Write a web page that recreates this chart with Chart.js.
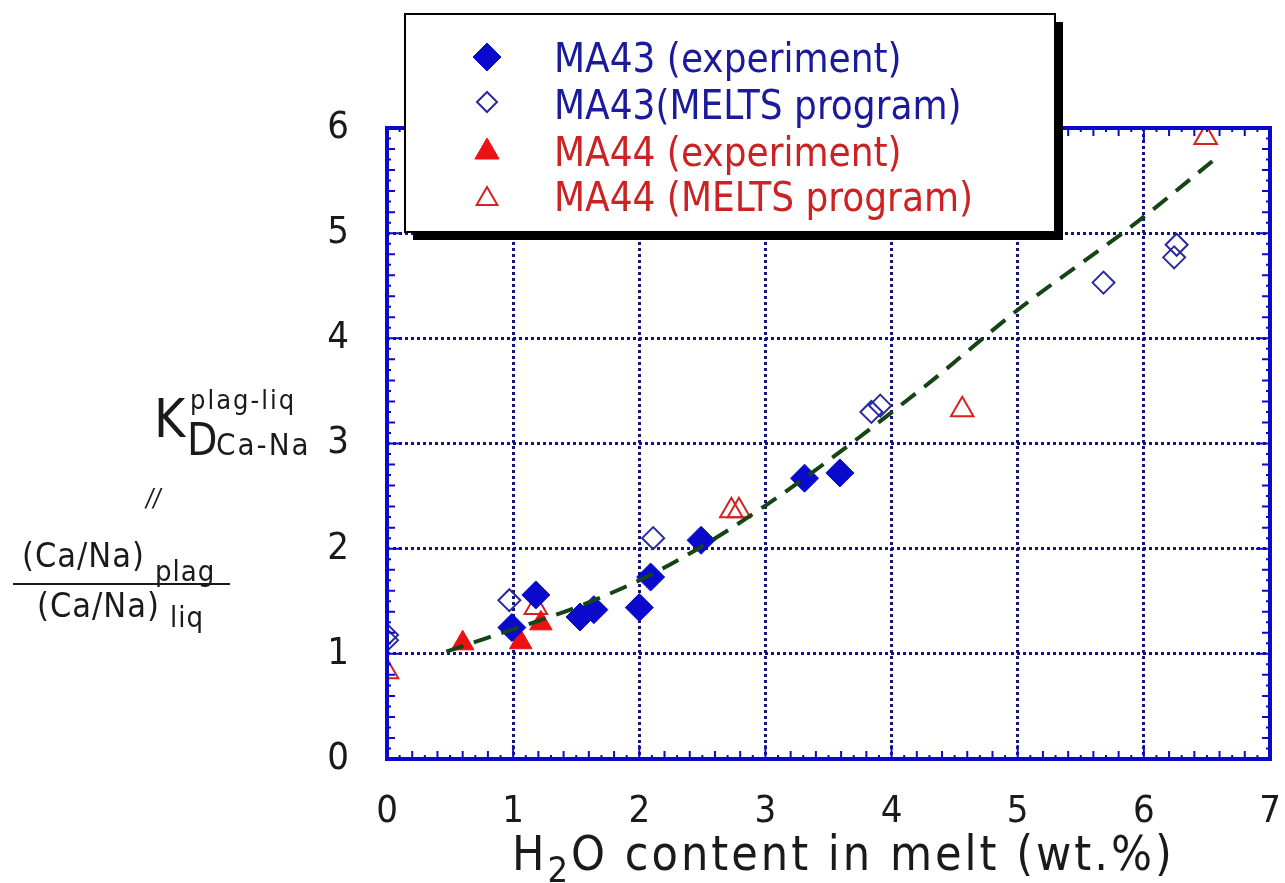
<!DOCTYPE html>
<html>
<head>
<meta charset="utf-8">
<script src="https://cdn.jsdelivr.net/npm/chart.js@4.4.0/dist/chart.umd.min.js"></script>
<style>
  html, body { margin: 0; padding: 0; background: #fff; }
  #wrap { width: 1285px; height: 883px; }
</style>
</head>
<body>
<div id="wrap"><canvas id="kdChart" width="1285" height="883"></canvas></div>
<script>
// valores (H2O wt.% , Kd)
const ma43ExpX = [0.99, 1.18, 1.53, 1.64, 2.0, 2.09, 2.49, 3.31, 3.59];
const ma43ExpY = [1.25, 1.56, 1.35, 1.42, 1.44, 1.73, 2.08, 2.67, 2.72];

const ma43MeltsX = [0.0, 0.0, 0.97, 2.11, 3.84, 3.91, 5.68, 6.24, 6.26];
const ma43MeltsY = [1.13, 1.18, 1.51, 2.10, 3.30, 3.36, 4.53, 4.77, 4.89];

const ma44ExpX = [0.6, 1.06, 1.22];
const ma44ExpY = [1.1, 1.11, 1.29];

const ma44MeltsX = [0.0, 1.18, 2.73, 2.79, 4.56, 6.49];
const ma44MeltsY = [0.83, 1.44, 2.36, 2.36, 3.32, 5.91];

// linha tracejada (tendencia)
const fitX = [0.47, 0.79, 1.58, 2.2, 3.0, 4.26, 5.0, 5.94, 6.57];
const fitY = [1.02, 1.15, 1.48, 1.82, 2.41, 3.54, 4.27, 5.10, 5.71];

const xTicks = [0, 1, 2, 3, 4, 5, 6, 7];
const yTicks = [0, 1, 2, 3, 4, 5, 6];

const azul = '#1a1a9a';
const vermelho = '#cc2222';
const fonte = '"DejaVu Sans Condensed"';

function pares(xs, ys) {
  return xs.map((x, i) => ({ x: x, y: ys[i] }));
}

const ctx = document.getElementById('kdChart').getContext('2d');

// desenha moldura, marcas menores, legenda e titulos dos eixos
const molduraPlugin = {
  id: 'moldura',
  afterDraw(chart) {
    const c = chart.ctx;
    const a = chart.chartArea;
    const sx = chart.scales.x, sy = chart.scales.y;
    c.save();
    c.strokeStyle = '#0a0acc';
    c.lineWidth = 4;
    c.strokeRect(a.left, a.top, a.right - a.left, a.bottom - a.top);

    c.lineWidth = 2;
    for (let i = 0; i <= 70; i++) {
      const len = i % 10 === 0 ? 14 : (i % 2 === 0 ? 8 : 4);
      const px = sx.getPixelForValue(i / 10);
      c.beginPath();
      c.moveTo(px, a.bottom); c.lineTo(px, a.bottom - len);
      c.moveTo(px, a.top); c.lineTo(px, a.top + len);
      c.stroke();
    }
    for (let i = 0; i <= 60; i++) {
      const len = i % 10 === 0 ? 14 : (i % 2 === 0 ? 8 : 4);
      const py = sy.getPixelForValue(i / 10);
      c.beginPath();
      c.moveTo(a.left, py); c.lineTo(a.left + len, py);
      c.moveTo(a.right, py); c.lineTo(a.right - len, py);
      c.stroke();
    }

    // legenda
    const bx = 405, by = 14, bw = 650, bh = 218;
    c.fillStyle = '#000';
    c.fillRect(bx + 8, by + 8, bw, bh);
    c.fillStyle = '#fff';
    c.fillRect(bx, by, bw, bh);
    c.strokeStyle = '#000';
    c.lineWidth = 2;
    c.strokeRect(bx, by, bw, bh);

    const itens = chart.data.datasets.filter(d => d.label);
    const tamanhos = [14, 10, 14, 12];
    const centros = [57, 102, 152, 199];
    const bases = [72, 119, 166, 211];
    c.font = '40px ' + fonte;
    c.textBaseline = 'alphabetic';
    itens.forEach((d, i) => {
      c.fillStyle = d.backgroundColor;
      c.strokeStyle = d.borderColor;
      c.lineWidth = d.borderWidth;
      Chart.helpers.drawPoint(c, { pointStyle: d.pointStyle, radius: tamanhos[i], borderWidth: d.borderWidth }, 487, centros[i]);
      c.fillStyle = d.textColor;
      c.fillText(d.label, 554, bases[i]);
    });
    c.restore();

    // titulo do eixo x
    c.save();
    c.fillStyle = '#1a1a1a';
    c.textBaseline = 'alphabetic';
    c.letterSpacing = '3px';
    c.font = '48px ' + fonte;
    let xx = 512;
    c.fillText('H', xx, 870);
    xx += c.measureText('H').width;
    c.font = '36px ' + fonte;
    c.fillText('2', xx, 882);
    xx += c.measureText('2').width;
    c.font = '48px ' + fonte;
    c.fillText('O content in melt (wt.%)', xx, 870);

    // rotulo do eixo y
    c.font = '53px ' + fonte;
    c.letterSpacing = '0px';
    c.fillText('K', 154, 437);
    c.font = '44px ' + fonte;
    c.fillText('D', 187, 455);
    c.letterSpacing = '2px';
    c.font = '27px ' + fonte;
    c.fillText('plag-liq', 190, 409);
    c.font = '31px ' + fonte;
    c.fillText('Ca-Na', 216, 455);
    c.letterSpacing = '0px';
    c.font = 'italic 24px ' + fonte;
    c.fillText('//', 146, 506);
    c.letterSpacing = '1px';
    c.font = '34px ' + fonte;
    c.fillText('(Ca/Na)', 22, 567);
    c.fillText('(Ca/Na)', 37, 617);
    c.font = '29px ' + fonte;
    c.fillText('plag', 155, 581);
    c.fillText('liq', 170, 627);
    c.fillRect(13, 583, 217, 2);
    c.restore();
  }
};

const chart = new Chart(ctx, {
  type: 'scatter',
  data: {
    datasets: [
      {
        data: pares(fitX, fitY),
        showLine: true,
        borderColor: '#154515',
        borderWidth: 4,
        borderDash: [18, 11],
        pointRadius: 0,
        cubicInterpolationMode: 'monotone',
        fill: false
      },
      {
        label: 'MA43 (experiment)',
        data: pares(ma43ExpX, ma43ExpY),
        pointStyle: 'rectRot',
        pointRadius: 14,
        backgroundColor: '#0a0acc',
        borderColor: '#0a0acc',
        borderWidth: 1,
        textColor: azul
      },
      {
        label: 'MA43(MELTS program)',
        data: pares(ma43MeltsX, ma43MeltsY),
        pointStyle: 'rectRot',
        pointRadius: 11,
        backgroundColor: 'rgba(255,255,255,0)',
        borderColor: '#2a2aa0',
        borderWidth: 2,
        textColor: azul
      },
      {
        label: 'MA44 (experiment)',
        data: pares(ma44ExpX, ma44ExpY),
        pointStyle: 'triangle',
        pointRadius: 13,
        backgroundColor: '#ee1111',
        borderColor: '#ee1111',
        borderWidth: 1,
        textColor: vermelho
      },
      {
        label: 'MA44 (MELTS program)',
        data: pares(ma44MeltsX, ma44MeltsY),
        pointStyle: 'triangle',
        pointRadius: 13,
        backgroundColor: 'rgba(255,255,255,0)',
        borderColor: '#d42222',
        borderWidth: 2,
        textColor: vermelho
      }
    ]
  },
  options: {
    responsive: false,
    animation: false,
    events: [],
    layout: { padding: { left: 0, top: 128, right: 10, bottom: 0 } },
    plugins: {
      legend: { display: false },
      tooltip: { enabled: false }
    },
    scales: {
      x: {
        type: 'linear',
        min: 0,
        max: 7,
        afterFit: (s) => { s.height = 124; s.paddingLeft = 0; s.paddingRight = 0; },
        afterBuildTicks: (s) => { s.ticks = xTicks.map(v => ({ value: v })); },
        grid: { color: '#14147a', lineWidth: 3, drawTicks: false },
        border: { display: false, dash: [3, 3] },
        ticks: { color: '#1a1a1a', padding: 30, maxRotation: 0, font: { family: 'DejaVu Sans Condensed', size: 38 } }
      },
      y: {
        type: 'linear',
        min: 0,
        max: 6,
        afterFit: (s) => { s.width = 387; s.paddingTop = 0; s.paddingBottom = 0; },
        afterBuildTicks: (s) => { s.ticks = yTicks.map(v => ({ value: v })); },
        grid: { color: '#14147a', lineWidth: 3, drawTicks: false },
        border: { display: false, dash: [3, 3] },
        ticks: { color: '#1a1a1a', padding: 38, font: { family: 'DejaVu Sans Condensed', size: 38 } }
      }
    }
  },
  plugins: [molduraPlugin]
});
</script>
</body>
</html>
